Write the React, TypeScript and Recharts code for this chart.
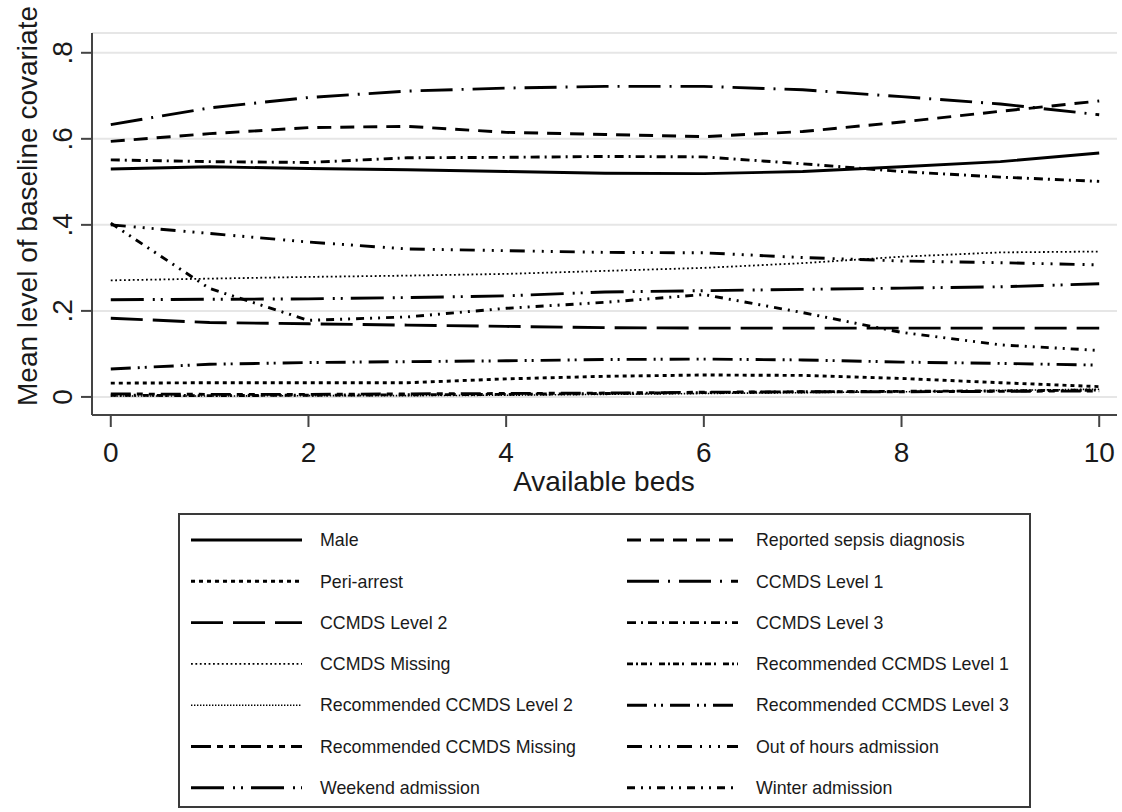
import React from 'react';
import { LineChart, Line, XAxis, YAxis, CartesianGrid, Legend } from 'recharts';

const FONT = "'Liberation Sans', Arial, sans-serif";

// available beds (x)
const beds = [0, 1, 2, 3, 4, 5, 6, 7, 8, 9, 10];

// mean level of each baseline covariate
const male = [0.530, 0.535, 0.531, 0.528, 0.524, 0.520, 0.519, 0.524, 0.535, 0.547, 0.567];
const sepsis = [0.594, 0.612, 0.626, 0.629, 0.615, 0.610, 0.605, 0.617, 0.639, 0.664, 0.688];
const periArrest = [0.032, 0.033, 0.033, 0.033, 0.042, 0.048, 0.051, 0.050, 0.043, 0.033, 0.024];
const ccmdsL1 = [0.633, 0.672, 0.696, 0.711, 0.718, 0.722, 0.722, 0.714, 0.698, 0.681, 0.656];
const ccmdsL2 = [0.183, 0.173, 0.170, 0.167, 0.164, 0.161, 0.160, 0.160, 0.160, 0.160, 0.160];
const ccmdsL3 = [0.551, 0.547, 0.545, 0.556, 0.557, 0.559, 0.558, 0.542, 0.524, 0.511, 0.501];
const ccmdsMissing = [0.271, 0.275, 0.279, 0.282, 0.286, 0.293, 0.300, 0.311, 0.326, 0.336, 0.338];
const recL1 = [0.004, 0.003, 0.004, 0.005, 0.006, 0.008, 0.010, 0.012, 0.013, 0.014, 0.016];
const recL2 = [0.002, 0.002, 0.003, 0.003, 0.004, 0.006, 0.008, 0.010, 0.012, 0.015, 0.018];
const recL3 = [0.065, 0.076, 0.080, 0.082, 0.084, 0.087, 0.088, 0.086, 0.081, 0.078, 0.074];
const recMissing = [0.007, 0.006, 0.006, 0.007, 0.008, 0.009, 0.011, 0.012, 0.012, 0.013, 0.014];
const outOfHours = [0.400, 0.380, 0.360, 0.344, 0.340, 0.336, 0.335, 0.324, 0.316, 0.312, 0.307];
const weekend = [0.226, 0.227, 0.228, 0.231, 0.235, 0.244, 0.247, 0.250, 0.253, 0.256, 0.263];
const winter = [0.404, 0.252, 0.178, 0.186, 0.206, 0.220, 0.238, 0.196, 0.150, 0.121, 0.108];

const xTicks = [0, 2, 4, 6, 8, 10];
const yTicks = [0, 0.2, 0.4, 0.6, 0.8];

// legend order (row-wise, two columns)
const series = [
  { key: 'male', name: 'Male', values: male, dash: undefined, width: 2.9 },
  { key: 'sepsis', name: 'Reported sepsis diagnosis', values: sepsis, dash: '14 9', width: 2.9 },
  { key: 'peri', name: 'Peri-arrest', values: periArrest, dash: '4 4', width: 2.9 },
  { key: 'ccmdsL1', name: 'CCMDS Level 1', values: ccmdsL1, dash: '32 9 2 9', width: 2.9 },
  { key: 'ccmdsL2', name: 'CCMDS Level 2', values: ccmdsL2, dash: '32 10', width: 2.9 },
  { key: 'ccmdsL3', name: 'CCMDS Level 3', values: ccmdsL3, dash: '9 5 2 5', width: 2.9 },
  { key: 'ccmdsMissing', name: 'CCMDS Missing', values: ccmdsMissing, dash: '1.8 2.6', width: 1.8 },
  { key: 'recL1', name: 'Recommended CCMDS Level 1', values: recL1, dash: '6 3 2 3 6 3 2 7', width: 2.9 },
  { key: 'recL2', name: 'Recommended CCMDS Level 2', values: recL2, dash: '1.4 1.6', width: 1.6 },
  { key: 'recL3', name: 'Recommended CCMDS Level 3', values: recL3, dash: '20 7 2 5 2 7', width: 2.9 },
  { key: 'recMissing', name: 'Recommended CCMDS Missing', values: recMissing, dash: '20 6 6 6 6 6', width: 2.9 },
  { key: 'outOfHours', name: 'Out of hours admission', values: outOfHours, dash: '15 8 2 7 2 7 2 7', width: 2.9 },
  { key: 'weekend', name: 'Weekend admission', values: weekend, dash: '33 9 2 6 2 8', width: 2.9 },
  { key: 'winter', name: 'Winter admission', values: winter, dash: '8 6 2 6 2 6', width: 2.9 },
];

const data = beds.map((b, i) => {
  const row: any = { beds: b };
  series.forEach(s => { row[s.key] = s.values[i]; });
  return row;
});

const fmtY = (v: number) => (v === 0 ? '0' : String(+v.toFixed(1)).replace(/^0\./, '.'));

const XTick = ({ x, payload }: any) => (
  <text x={x} y={462} textAnchor="middle" fontSize={28} fill="#1a1a1a" fontFamily={FONT}>
    {payload.value}
  </text>
);

const YTick = ({ y, payload }: any) => (
  <text transform={`translate(72, ${y}) rotate(-90)`} textAnchor="middle" fontSize={28} fill="#1a1a1a" fontFamily={FONT}>
    {fmtY(payload.value)}
  </text>
);

const XTitle = () => (
  <text x={604} y={491} textAnchor="middle" fontSize={28} fill="#1a1a1a" fontFamily={FONT}>
    Available beds
  </text>
);

const YTitle = () => (
  <text transform="translate(37, 206) rotate(-90)" textAnchor="middle" fontSize={28} fill="#1a1a1a" fontFamily={FONT}>
    Mean level of baseline covariate
  </text>
);

const LegendBox = () => (
  <svg width={853} height={295} style={{ display: 'block' }}>
    <rect x={1} y={1} width={851} height={293} fill="#fff" stroke="#3a3a3a" strokeWidth={2} />
    {series.map((s, i) => {
      const col = i % 2;
      const y = 27 + Math.floor(i / 2) * 41.3;
      const kx = col ? 449 : 13;
      const tx = col ? 578 : 142;
      return (
        <g key={s.key}>
          <line x1={kx} x2={kx + 111} y1={y} y2={y} stroke="#000" strokeWidth={s.width} strokeDasharray={s.dash} />
          <text x={tx} y={y} dy="0.35em" fontSize={17.8} fill="#1a1a1a" fontFamily={FONT}>
            {s.name}
          </text>
        </g>
      );
    })}
  </svg>
);

export default function App() {
  return (
    <div style={{ width: 1122, height: 812, position: 'relative', background: '#fff' }}>
      <style>{'body{margin:0}'}</style>
      <LineChart width={1122} height={812} data={data} margin={{ top: 33, right: 5, bottom: 0, left: 0 }}>
        <CartesianGrid horizontal vertical={false} stroke="#e6e6e6" strokeWidth={2} />
        <XAxis
          dataKey="beds"
          type="number"
          domain={[-0.19, 10.18]}
          ticks={xTicks}
          allowDataOverflow
          height={397}
          tickSize={12}
          tickLine={{ stroke: '#444', strokeWidth: 2 }}
          axisLine={{ stroke: '#444', strokeWidth: 2 }}
          tick={<XTick />}
          label={<XTitle />}
        />
        <YAxis
          type="number"
          domain={[-0.042, 0.846]}
          ticks={yTicks}
          allowDataOverflow
          width={92}
          tickSize={11}
          tickLine={{ stroke: '#444', strokeWidth: 2 }}
          axisLine={{ stroke: '#444', strokeWidth: 2 }}
          tick={<YTick />}
          label={<YTitle />}
        />
        {series.map(s => (
          <Line
            key={s.key}
            dataKey={s.key}
            name={s.name}
            type="linear"
            stroke="#000"
            strokeWidth={s.width}
            strokeDasharray={s.dash}
            dot={false}
            activeDot={false}
            isAnimationActive={false}
          />
        ))}
        <Legend
          layout="vertical"
          align="center"
          verticalAlign="middle"
          content={() => <LegendBox />}
          wrapperStyle={{ left: 178, top: 513, width: 853, height: 295 }}
        />
      </LineChart>
    </div>
  );
}
